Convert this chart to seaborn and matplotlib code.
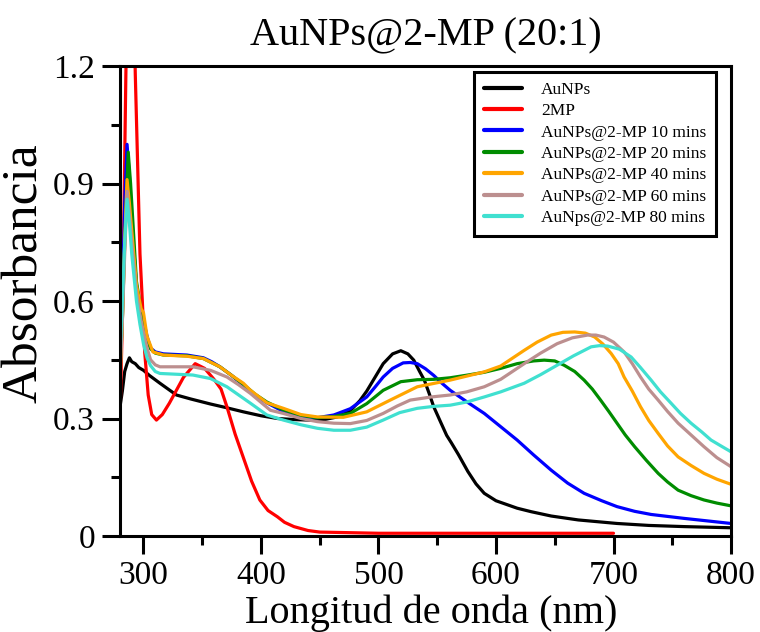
import numpy as np
import pandas as pd
import matplotlib
matplotlib.use("Agg")
import matplotlib.pyplot as plt
from matplotlib.ticker import MultipleLocator, FixedLocator, FixedFormatter
import seaborn as sns

# ---------------- data ----------------
series_names = ["AuNPs", "2MP", "AuNPs@2-MP 10 mins", "AuNPs@2-MP 20 mins",
                "AuNPs@2-MP 40 mins", "AuNPs@2-MP 60 mins", "AuNps@2-MP 80 mins"]
series_colors = ["#000000", "#ff0000", "#0000ff", "#008c00",
                 "#ffa500", "#bc8f8f", "#40e0d0"]

wl_aunps = [280, 282, 284, 286, 288, 290, 293, 296, 300, 305, 314, 328, 340, 357, 370, 385, 400, 414,
            430, 442, 455, 465, 476, 484, 490, 497, 504, 512, 519, 525, 530, 535, 539, 543, 547, 553,
            558, 562, 568, 576, 583, 590, 600, 618, 630, 647, 670, 703, 730, 760, 800]
ab_aunps = [0.33, 0.37, 0.42, 0.44, 0.455, 0.445, 0.44, 0.43, 0.423, 0.41, 0.39, 0.36, 0.35, 0.337,
            0.328, 0.317, 0.307, 0.30, 0.297, 0.296, 0.298, 0.304, 0.32, 0.345, 0.37, 0.405, 0.44,
            0.465, 0.473, 0.465, 0.449, 0.42, 0.398, 0.365, 0.33, 0.29, 0.257, 0.238, 0.208, 0.165,
            0.133, 0.109, 0.09, 0.071, 0.062, 0.051, 0.041, 0.032, 0.027, 0.024, 0.021]

wl_2mp = [280, 282, 283, 285, 288, 290, 291, 293, 295, 297, 299, 301, 304, 307, 311, 316, 322, 334,
          344, 352, 360, 366, 371, 378, 385, 392, 399, 406, 414, 420, 428, 440, 450, 500, 600, 700]
ab_2mp = [0.30, 0.55, 0.75, 1.18, 1.7, 1.7, 1.5, 1.18, 0.95, 0.72, 0.60, 0.47, 0.36, 0.31, 0.296,
          0.31, 0.339, 0.405, 0.44, 0.428, 0.40, 0.375, 0.33, 0.26, 0.20, 0.14, 0.092, 0.065, 0.049,
          0.035, 0.024, 0.014, 0.010, 0.007, 0.007, 0.007]

wl_10 = [280, 282, 284, 286, 288, 290, 294, 298, 300, 303, 306, 310, 317, 337, 351, 358, 365, 375,
         385, 395, 405, 419, 434, 448, 462, 476, 490, 497, 504, 512, 521, 527, 533, 540, 547, 554,
         561, 575, 590, 604, 618, 632, 647, 661, 675, 690, 703, 718, 732, 760, 800]
ab_10 = [0.42, 0.6, 0.85, 1.0, 0.92, 0.8, 0.64, 0.57, 0.55, 0.51, 0.48, 0.47, 0.465, 0.462, 0.455,
         0.445, 0.432, 0.41, 0.385, 0.36, 0.34, 0.318, 0.306, 0.302, 0.309, 0.325, 0.355, 0.38,
         0.406, 0.428, 0.442, 0.443, 0.44, 0.427, 0.41, 0.39, 0.372, 0.343, 0.313, 0.279, 0.245,
         0.207, 0.168, 0.135, 0.109, 0.09, 0.075, 0.063, 0.055, 0.045, 0.032]

wl_20 = [280, 282, 284, 287, 289, 291, 294, 298, 300, 303, 306, 310, 317, 337, 351, 365, 375, 385,
         395, 405, 419, 434, 448, 462, 476, 490, 504, 519, 533, 547, 561, 576, 590, 604, 618, 632,
         641, 650, 658, 667, 675, 682, 689, 696, 703, 710, 718, 728, 738, 746, 755, 766, 777, 788, 800]
ab_20 = [0.42, 0.55, 0.75, 0.98, 0.9, 0.8, 0.65, 0.575, 0.55, 0.505, 0.478, 0.467, 0.462, 0.46,
         0.453, 0.432, 0.41, 0.387, 0.362, 0.342, 0.322, 0.308, 0.302, 0.305, 0.313, 0.338, 0.372,
         0.394, 0.399, 0.40, 0.404, 0.411, 0.418, 0.428, 0.44, 0.447, 0.449, 0.447, 0.436, 0.42,
         0.398, 0.375, 0.347, 0.318, 0.288, 0.258, 0.228, 0.193, 0.16, 0.138, 0.117, 0.103, 0.092,
         0.084, 0.077]

wl_40 = [280, 282, 284, 286, 288, 290, 294, 298, 300, 303, 308, 317, 337, 351, 365, 375, 385, 391,
         405, 419, 434, 448, 470, 490, 510, 533, 561, 590, 604, 624, 635, 647, 657, 667, 676, 684,
         691, 698, 704, 709, 716, 723, 730, 738, 746, 755, 766, 777, 788, 800]
ab_40 = [0.40, 0.55, 0.75, 0.91, 0.85, 0.78, 0.64, 0.58, 0.57, 0.51, 0.47, 0.462, 0.459, 0.453,
         0.432, 0.41, 0.39, 0.372, 0.34, 0.326, 0.31, 0.304, 0.303, 0.317, 0.347, 0.381, 0.398,
         0.419, 0.434, 0.474, 0.495, 0.513, 0.52, 0.521, 0.518, 0.508, 0.49, 0.466, 0.44, 0.406,
         0.37, 0.33, 0.295, 0.262, 0.23, 0.202, 0.18, 0.16, 0.145, 0.132]

wl_60 = [280, 282, 284, 286, 288, 290, 294, 298, 300, 303, 306, 310, 314, 342, 357, 371, 381, 391,
         408, 419, 434, 448, 462, 476, 490, 504, 516, 527, 545, 561, 575, 590, 604, 624, 638, 652,
         665, 678, 685, 692, 700, 709, 716, 723, 730, 738, 746, 755, 766, 777, 788, 800]
ab_60 = [0.40, 0.55, 0.72, 0.88, 0.82, 0.75, 0.62, 0.55, 0.52, 0.48, 0.45, 0.437, 0.432, 0.432,
         0.423, 0.406, 0.386, 0.364, 0.321, 0.313, 0.30, 0.292, 0.288, 0.287, 0.295, 0.313, 0.332,
         0.347, 0.355, 0.36, 0.368, 0.381, 0.40, 0.44, 0.467, 0.491, 0.506, 0.513, 0.513, 0.508,
         0.495, 0.47, 0.44, 0.406, 0.375, 0.347, 0.318, 0.288, 0.258, 0.228, 0.20, 0.177]

wl_80 = [280, 282, 284, 286, 288, 290, 294, 297, 300, 303, 306, 310, 314, 342, 357, 371, 381, 391,
         405, 419, 434, 448, 462, 476, 490, 504, 518, 533, 547, 561, 575, 590, 604, 624, 638, 652,
         666, 681, 688, 695, 705, 715, 723, 732, 740, 749, 757, 766, 775, 783, 792, 800]
ab_80 = [0.45, 0.6, 0.75, 0.86, 0.8, 0.72, 0.6, 0.54, 0.49, 0.455, 0.435, 0.42, 0.415, 0.411,
         0.402, 0.381, 0.36, 0.339, 0.309, 0.296, 0.284, 0.275, 0.27, 0.27, 0.278, 0.296, 0.315,
         0.326, 0.331, 0.334, 0.342, 0.355, 0.368, 0.39, 0.412, 0.436, 0.46, 0.483, 0.486, 0.485,
         0.477, 0.457, 0.43, 0.398, 0.368, 0.339, 0.313, 0.288, 0.266, 0.245, 0.229, 0.215]

xtick_values = [300, 400, 500, 600, 700, 800]
ytick_values = [0, 0.3, 0.6, 0.9, 1.2]
ytick_labels = ["0", "0.3", "0.6", "0.9", "1.2"]

title_text = "AuNPs@2-MP (20:1)"
xlabel_text = "Longitud de onda (nm)"
ylabel_text = "Absorbancia"

# ---------------- build long table ----------------
all_wl = [wl_aunps, wl_2mp, wl_10, wl_20, wl_40, wl_60, wl_80]
all_ab = [ab_aunps, ab_2mp, ab_10, ab_20, ab_40, ab_60, ab_80]
frames = []
for name, w, a in zip(series_names, all_wl, all_ab):
    frames.append(pd.DataFrame({"wl": w, "abs": a, "series": name}))
df = pd.concat(frames, ignore_index=True)

# ---------------- plot ----------------
sns.set_theme(style="ticks")
plt.rcParams["font.family"] = ["Liberation Serif", "DejaVu Serif"]
plt.rcParams["text.color"] = "black"
plt.rcParams["axes.labelcolor"] = "black"
plt.rcParams["xtick.color"] = "black"
plt.rcParams["ytick.color"] = "black"

fig = plt.figure(figsize=(7.6, 6.32), dpi=100)
ax = fig.add_axes([120 / 760, 1 - 536 / 632, 611 / 760, 470 / 632])

palette = dict(zip(series_names, series_colors))
sns.lineplot(data=df, x="wl", y="abs", hue="series", hue_order=series_names,
             palette=palette, estimator=None, sort=False, linewidth=2.3,
             ax=ax, legend=True)

ax.set_xlim(280, 800)
ax.set_ylim(0, 1.2)

ax.xaxis.set_major_locator(FixedLocator(xtick_values))
ax.xaxis.set_minor_locator(MultipleLocator(50))
ax.yaxis.set_major_locator(FixedLocator(ytick_values))
ax.yaxis.set_major_formatter(FixedFormatter(ytick_labels))
ax.yaxis.set_minor_locator(MultipleLocator(0.15))

ax.tick_params(which="major", direction="out", length=13, width=2.2,
               labelsize=24, pad=5, colors="black", labelcolor="black",
               top=False, right=False)
ax.tick_params(which="minor", direction="out", length=6.8, width=2.2,
               colors="black", top=False, right=False)
for sp in ax.spines.values():
    sp.set_visible(True)
    sp.set_linewidth(2.2)
    sp.set_color("black")

ax.set_xlabel(xlabel_text, fontsize=29, color="black")
ax.set_ylabel(ylabel_text, fontsize=37, color="black")
ax.xaxis.set_label_coords(0.51, -0.125)
ax.yaxis.set_label_coords(-0.118, 0.56)
ax.set_title(title_text, fontsize=29, pad=15, x=0.5, color="black")

handles, labels = ax.get_legend_handles_labels()
for h in handles:
    h.set_linewidth(3)
leg = ax.legend(handles, labels, loc="upper right", bbox_to_anchor=(0.975, 0.987),
                borderaxespad=0, fontsize=12.5, frameon=True, fancybox=False,
                framealpha=1, edgecolor="black", handlelength=2.2,
                handletextpad=1.1, labelspacing=0.3, borderpad=0.55)
leg.get_frame().set_linewidth(2.2)
for t in leg.get_texts():
    t.set_color("black")

fig.savefig("out.png", dpi=100)
